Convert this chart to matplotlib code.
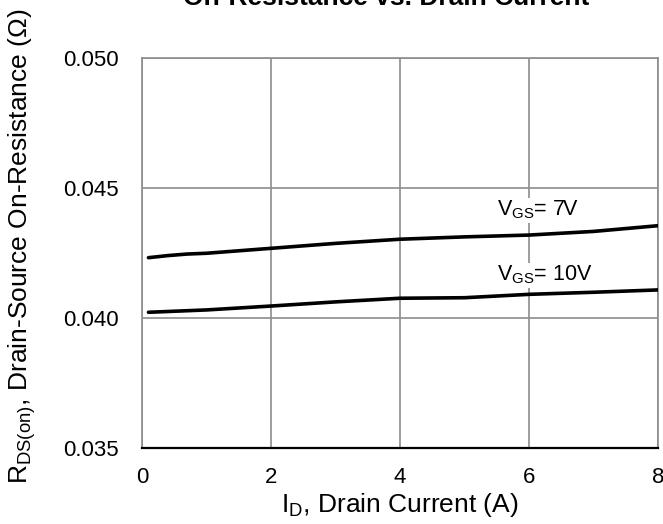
import matplotlib
matplotlib.use("Agg")
import matplotlib.pyplot as plt

plt.rcParams['font.family'] = ['Liberation Sans', 'DejaVu Sans']
plt.rcParams['mathtext.fontset'] = 'custom'
plt.rcParams['mathtext.rm'] = 'Liberation Sans'

# Drain current (A)
drain_current = [0.1, 0.4, 0.7, 1, 2, 3, 4, 5, 6, 7, 8]
# On-resistance (ohm)
rds_7v = [0.04232, 0.04240, 0.04246, 0.04249, 0.04268, 0.04287, 0.04303, 0.04312, 0.04319, 0.04333, 0.04355]
rds_10v = [0.04022, 0.04025, 0.04028, 0.04031, 0.04046, 0.04062, 0.04076, 0.04078, 0.04091, 0.04099, 0.04108]

x_ticks = [0, 2, 4, 6, 8]
y_ticks = [0.035, 0.040, 0.045, 0.050]

fig = plt.figure(figsize=(6.63, 5.24), dpi=100)
ax = fig.add_axes([142 / 663, 1 - 448 / 524, (658 - 142) / 663, (448 - 58) / 524])

grid_col = '#8c8c8c'
ax.plot(drain_current, rds_7v, color='black', lw=2.6, solid_capstyle='round', zorder=3)
ax.plot(drain_current, rds_10v, color='black', lw=2.6, solid_capstyle='round', zorder=3)

ax.set_xlim(0, 8)
ax.set_ylim(0.035, 0.050)
ax.set_xticks(x_ticks)
ax.set_yticks(y_ticks)
ax.set_yticklabels([f"{v:.3f}" for v in y_ticks])
ax.grid(True, color=grid_col, lw=1.2)
ax.set_axisbelow(True)
ax.tick_params(length=0, labelsize=16)
ax.tick_params(axis='x', pad=14)
ax.tick_params(axis='y', pad=17)

for side in ['left', 'top', 'right']:
    ax.spines[side].set_color(grid_col)
    ax.spines[side].set_linewidth(1.2)
ax.spines['bottom'].set_color('black')
ax.spines['bottom'].set_linewidth(1.6)

box = dict(facecolor='white', edgecolor='none', pad=1)
ax.text(5.5, 0.04415, r'V$_{\mathregular{GS}}$= 7V', fontsize=15.5, va='center', ha='left', bbox=box, zorder=2)
ax.text(5.5, 0.04165, r'V$_{\mathregular{GS}}$= 10V', fontsize=15.5, va='center', ha='left', bbox=box, zorder=2)

ax.set_xlabel(r'I$_{\mathregular{D}}$, Drain Current (A)', fontsize=19)
ax.xaxis.set_label_coords(0.5, (448 - 491) / 390)
ax.set_ylabel(r'R$_{\mathregular{DS(on)}}$, Drain-Source On-Resistance ($\Omega$)', fontsize=19)
ax.yaxis.set_label_coords((38 - 142) / 516, (448 - 246) / 390)

fig.text(386 / 663, 1 - 5 / 524, 'On-Resistance vs. Drain Current', fontsize=19,
         fontweight='bold', ha='center', va='baseline')

fig.savefig('out.png', dpi=100)
